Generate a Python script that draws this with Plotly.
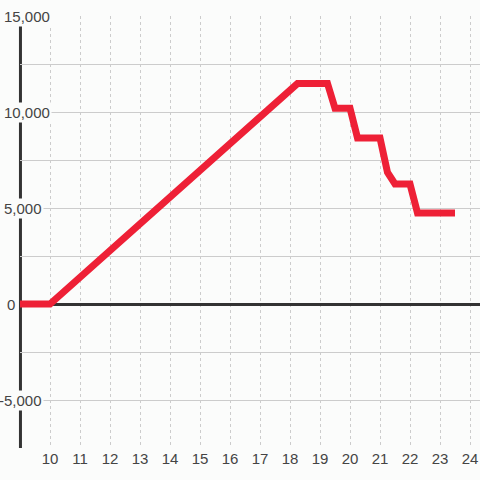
import plotly.graph_objects as go

# Data
hours = [9, 10, 18.25, 19.25, 19.5, 20, 20.25, 21, 21.25, 21.5, 22, 22.25, 23.5]
values = [0, 0, 11480, 11480, 10200, 10200, 8650, 8650, 6850, 6250, 6250, 4740, 4740]

x_ticks = list(range(10, 25))
y_label_vals = [15000, 10000, 5000, 0, -5000]
y_label_text = ["15,000", "10,000", "5,000", "0", "-5,000"]

# layout: right edge (px from left of plot area) of each y label box
y_label_right = [32, 32, 24, -3, 24]

BG = "#fbfcfb"
GRID = "#cccccc"
TXT = "#444444"
FONT = "Liberation Sans, Arial, sans-serif"

fig = go.Figure()
fig.add_trace(go.Scatter(
    x=hours, y=values, mode="lines",
    line=dict(color="#ee2036", width=7),
    hoverinfo="skip", showlegend=False,
))

# left axis line drawn as a shape between gridlines and traces
fig.add_shape(type="line", xref="paper", yref="y", x0=0.001, x1=0.001,
              y0=-7500, y1=14600, line=dict(color="#333333", width=3),
              layer="between")

for v, t, r in zip(y_label_vals, y_label_text, y_label_right):
    fig.add_annotation(
        x=0, xref="paper", y=v, yref="y", text=t, showarrow=False,
        xanchor="right", yanchor="middle", xshift=r,
        font=dict(family=FONT, size=15, color=TXT),
        bgcolor=BG, borderpad=1,
    )

fig.update_layout(
    width=480, height=480,
    margin=dict(l=20, r=0, t=16, b=32),
    paper_bgcolor=BG, plot_bgcolor=BG,
    font=dict(family=FONT, size=15, color=TXT),
    xaxis=dict(
        range=[9, 9 + 460 / 30], tickvals=x_ticks, ticktext=[str(v) for v in x_ticks],
        showgrid=True, gridcolor=GRID, gridwidth=1, griddash="dot",
        zeroline=False, showline=False, ticks="",
        tickfont=dict(family=FONT, size=15, color=TXT),
    ),
    yaxis=dict(
        range=[-7500, 15000], dtick=2500, tick0=0,
        showgrid=True, gridcolor=GRID, gridwidth=1,
        showticklabels=False, ticks="",
        zeroline=True, zerolinecolor="#333333", zerolinewidth=3,
        showline=False,
    ),
)

fig.write_html(
    "out.html",
    config={"displayModeBar": False, "staticPlot": True},
    post_script="document.body.style.margin='0';document.body.style.background='%s';" % BG,
)
